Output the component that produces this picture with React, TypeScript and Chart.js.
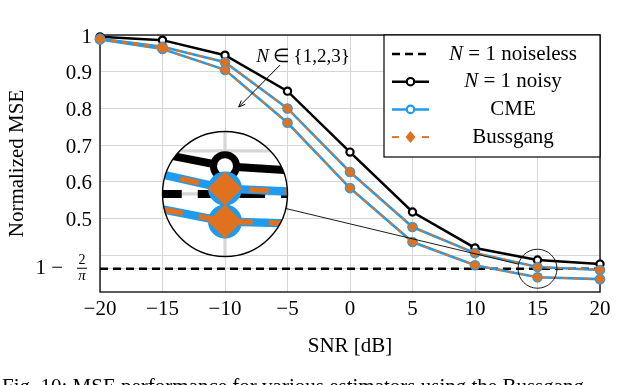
import React, { useEffect, useRef } from 'react';
import { Chart, registerables } from 'chart.js';

Chart.register(...registerables);

const SERIF = '"Liberation Serif", "Times New Roman", Times, serif';
const BLUE = '#1C9BEF';
const ORANGE = '#E0721F';
const GRID = '#d6d6d6';

// ---- data ----
const snrDb = [-20, -15, -10, -5, 0, 5, 10, 15, 20];
const mseNoiselessN1 = [0.3634, 0.3634, 0.3634, 0.3634, 0.3634, 0.3634, 0.3634, 0.3634, 0.3634];
const mseNoisyN1 = [0.995, 0.986, 0.945, 0.847, 0.681, 0.518, 0.42, 0.387, 0.376];
const mseCmeN2 = [0.99, 0.968, 0.926, 0.8, 0.627, 0.477, 0.406, 0.368, 0.36];
const mseCmeN3 = [0.988, 0.962, 0.905, 0.761, 0.583, 0.436, 0.373, 0.34, 0.335];
const mseBussgangN2 = [0.99, 0.968, 0.926, 0.8, 0.627, 0.477, 0.406, 0.368, 0.36];
const mseBussgangN3 = [0.988, 0.962, 0.905, 0.761, 0.583, 0.436, 0.373, 0.34, 0.335];

const xTicks = [-20, -15, -10, -5, 0, 5, 10, 15, 20];
const xTickLabels = ['\u221220', '\u221215', '\u221210', '\u22125', '0', '5', '10', '15', '20'];
const yTicks = [0.3634, 0.4, 0.5, 0.6, 0.7, 0.8, 0.9, 1];
const yTickLabels = ['', '', '0.5', '0.6', '0.7', '0.8', '0.9', '1'];

const xTitle = 'SNR [dB]';
const yTitle = 'Normalized MSE';
const legendEntries = [
  { italic: 'N', rest: ' = 1 noiseless', kind: 'noiseless' },
  { italic: 'N', rest: ' = 1 noisy', kind: 'noisy' },
  { italic: '', rest: 'CME', kind: 'cme' },
  { italic: '', rest: 'Bussgang', kind: 'bussgang' },
];
const annotationItalic = 'N';
const annotationRest = '\u2009\u2208\u2009{1,2,3}';
const captionText = 'Fig. 10: MSE performance for various estimators using the Bussgang';

// annotation anchors in data coordinates
const annotationTextAt = { snr: -7.5, mse: 0.94 };
const arrowFrom = { snr: -5.6, mse: 0.918 };
const arrowTo = { snr: -8.9, mse: 0.804 };
const spyAt = { snr: 15, mse: 0.3634 };
const insetAt = { snr: -10, mse: 0.567 };

const toXY = (arr: number[]) => snrDb.map((x, i) => ({ x, y: arr[i] }));

function drawRuns(ctx: CanvasRenderingContext2D, runs: { t: string; italic?: boolean }[], x: number, y: number, size: number, align: 'center' | 'left') {
  const widths = runs.map((r) => {
    ctx.font = `${r.italic ? 'italic ' : ''}${size}px ${SERIF}`;
    return ctx.measureText(r.t).width;
  });
  const total = widths.reduce((a, b) => a + b, 0);
  let cx = align === 'center' ? x - total / 2 : x;
  ctx.textAlign = 'left';
  runs.forEach((r, i) => {
    ctx.font = `${r.italic ? 'italic ' : ''}${size}px ${SERIF}`;
    ctx.fillText(r.t, cx, y);
    cx += widths[i];
  });
}

function drawLegendSample(ctx: CanvasRenderingContext2D, kind: string, x0: number, x1: number, y: number) {
  const xm = (x0 + x1) / 2;
  ctx.save();
  if (kind === 'noiseless') {
    ctx.strokeStyle = '#000';
    ctx.lineWidth = 2.4;
    ctx.setLineDash([8, 5]);
    ctx.beginPath(); ctx.moveTo(x0, y); ctx.lineTo(x1, y); ctx.stroke();
  } else if (kind === 'noisy' || kind === 'cme') {
    const c = kind === 'noisy' ? '#000' : BLUE;
    ctx.strokeStyle = c;
    ctx.lineWidth = 2.5;
    ctx.beginPath(); ctx.moveTo(x0, y); ctx.lineTo(x1, y); ctx.stroke();
    ctx.beginPath(); ctx.arc(xm, y, 3.7, 0, Math.PI * 2);
    ctx.fillStyle = '#fff'; ctx.fill();
    ctx.lineWidth = 2.2; ctx.stroke();
  } else {
    ctx.strokeStyle = ORANGE;
    ctx.lineWidth = 2;
    ctx.beginPath(); ctx.moveTo(x0, y); ctx.lineTo(x0 + 7, y); ctx.stroke();
    ctx.beginPath(); ctx.moveTo(x1 - 7, y); ctx.lineTo(x1, y); ctx.stroke();
    ctx.fillStyle = ORANGE;
    ctx.beginPath();
    ctx.moveTo(xm, y - 6); ctx.lineTo(xm + 5, y); ctx.lineTo(xm, y + 6); ctx.lineTo(xm - 5, y);
    ctx.closePath(); ctx.fill();
  }
  ctx.restore();
}

const decorPlugin = {
  id: 'decor',
  beforeDatasetsDraw(chart: any) {
    const { ctx, chartArea: a } = chart;
    ctx.save();
    ctx.strokeStyle = '#000';
    ctx.lineWidth = 1.3;
    ctx.strokeRect(a.left, a.top, a.right - a.left, a.bottom - a.top);
    ctx.restore();
  },
  afterDraw(chart: any) {
    const { ctx, chartArea: a } = chart;
    const xs = chart.scales.x;
    const ys = chart.scales.y;
    const px = (v: number) => xs.getPixelForValue(v);
    const py = (v: number) => ys.getPixelForValue(v);

    ctx.save();
    ctx.fillStyle = '#000';
    ctx.textBaseline = 'middle';

    // y label 1 - 2/pi
    const yf = py(yTicks[0]);
    ctx.font = `21px ${SERIF}`;
    ctx.textAlign = 'right';
    ctx.fillText('1 \u2212', 63, yf);
    ctx.textAlign = 'center';
    ctx.font = `14px ${SERIF}`;
    ctx.fillText('2', 82, yf - 8);
    ctx.font = `italic 15px ${SERIF}`;
    ctx.fillText('\u03C0', 82, yf + 7);
    ctx.fillRect(77, yf - 1, 10, 1);

    // annotation
    drawRuns(ctx, [{ t: annotationItalic, italic: true }, { t: annotationRest }], px(annotationTextAt.snr), py(annotationTextAt.mse), 19, 'left');
    const ax0 = px(arrowFrom.snr), ay0 = py(arrowFrom.mse), ax1 = px(arrowTo.snr), ay1 = py(arrowTo.mse);
    ctx.strokeStyle = '#000';
    ctx.lineWidth = 1;
    ctx.beginPath(); ctx.moveTo(ax0, ay0); ctx.lineTo(ax1, ay1); ctx.stroke();
    const ang = Math.atan2(ay1 - ay0, ax1 - ax0);
    ctx.beginPath();
    ctx.moveTo(ax1 - 7 * Math.cos(ang - 0.4), ay1 - 7 * Math.sin(ang - 0.4));
    ctx.lineTo(ax1, ay1);
    ctx.lineTo(ax1 - 7 * Math.cos(ang + 0.4), ay1 - 7 * Math.sin(ang + 0.4));
    ctx.stroke();

    // spy / inset
    const sx = px(spyAt.snr), sy = py(spyAt.mse);
    const cx = px(insetAt.snr), cy = py(insetAt.mse);
    const r = 19.5, R = 62.5, m = R / r;
    const dx = sx - cx, dy = sy - cy, d = Math.hypot(dx, dy);
    ctx.lineWidth = 0.9;
    ctx.beginPath();
    ctx.moveTo(cx + (dx / d) * R, cy + (dy / d) * R);
    ctx.lineTo(sx - (dx / d) * r, sy - (dy / d) * r);
    ctx.stroke();
    ctx.beginPath(); ctx.arc(sx, sy, r, 0, Math.PI * 2); ctx.stroke();

    ctx.save();
    ctx.beginPath(); ctx.arc(cx, cy, R, 0, Math.PI * 2); ctx.clip();
    ctx.fillStyle = '#fff';
    ctx.fillRect(cx - R, cy - R, 2 * R, 2 * R);
    ctx.translate(cx, cy); ctx.scale(m, m); ctx.translate(-sx, -sy);
    ctx.strokeStyle = GRID; ctx.lineWidth = 1;
    xTicks.forEach((v) => { ctx.beginPath(); ctx.moveTo(px(v), a.top); ctx.lineTo(px(v), a.bottom); ctx.stroke(); });
    yTicks.forEach((v) => { ctx.beginPath(); ctx.moveTo(a.left, py(v)); ctx.lineTo(a.right, py(v)); ctx.stroke(); });
    const metas = chart.getSortedVisibleDatasetMetas();
    for (let i = metas.length - 1; i >= 0; i--) metas[i].controller.draw();
    ctx.restore();
    ctx.strokeStyle = '#000';
    ctx.lineWidth = 1.4;
    ctx.beginPath(); ctx.arc(cx, cy, R, 0, Math.PI * 2); ctx.stroke();

    // legend
    const lw = 216, lh = 122;
    const lx = a.right - lw, ly = a.top;
    ctx.fillStyle = '#fff';
    ctx.fillRect(lx, ly, lw, lh);
    ctx.strokeStyle = '#000';
    ctx.lineWidth = 1.2;
    ctx.strokeRect(lx, ly, lw, lh);
    ctx.fillStyle = '#000';
    legendEntries.forEach((e, i) => {
      const yy = ly + 19 + i * 27.7;
      drawLegendSample(ctx, e.kind, lx + 8, lx + 45, yy);
      ctx.fillStyle = '#000';
      ctx.textBaseline = 'middle';
      const runs = e.italic ? [{ t: e.italic, italic: true }, { t: e.rest }] : [{ t: e.rest }];
      drawRuns(ctx, runs, lx + 129, yy, 21, 'center');
    });

    // caption (cropped at the bottom of the picture)
    ctx.textBaseline = 'alphabetic';
    ctx.textAlign = 'left';
    ctx.font = `21px ${SERIF}`;
    ctx.fillText(captionText, 2, 393);
    ctx.restore();
  },
};

export default function App() {
  const ref = useRef<HTMLCanvasElement | null>(null);
  useEffect(() => {
    document.body.style.margin = '0';
    const canvas = ref.current;
    if (!canvas) return;
    const font = { family: SERIF, size: 21 };
    const chart = new Chart(canvas, {
      type: 'line',
      data: {
        datasets: [
          {
            label: 'N = 1 noiseless', data: toXY(mseNoiselessN1), borderColor: '#000', borderWidth: 2.5,
            borderDash: [8, 5], pointRadius: 0, order: 5,
          },
          {
            label: 'N = 1 noisy', data: toXY(mseNoisyN1), borderColor: '#000', borderWidth: 2.5,
            pointStyle: 'circle', pointRadius: 3.6, pointBorderWidth: 2.2, pointBackgroundColor: '#fff',
            pointBorderColor: '#000', order: 4,
          },
          {
            label: 'CME N=2', data: toXY(mseCmeN2), borderColor: BLUE, borderWidth: 2.6,
            pointStyle: 'circle', pointRadius: 4.2, pointBorderWidth: 2.2, pointBackgroundColor: '#fff',
            pointBorderColor: BLUE, order: 3,
          },
          {
            label: 'CME N=3', data: toXY(mseCmeN3), borderColor: BLUE, borderWidth: 2.6,
            pointStyle: 'circle', pointRadius: 4.2, pointBorderWidth: 2.2, pointBackgroundColor: '#fff',
            pointBorderColor: BLUE, order: 3,
          },
          {
            label: 'Bussgang N=2', data: toXY(mseBussgangN2), borderColor: ORANGE, borderWidth: 1.7,
            borderDash: [6, 5], pointStyle: 'rectRot', pointRadius: 5, pointBorderWidth: 0.5,
            pointBackgroundColor: ORANGE, pointBorderColor: ORANGE, order: 1,
          },
          {
            label: 'Bussgang N=3', data: toXY(mseBussgangN3), borderColor: ORANGE, borderWidth: 1.7,
            borderDash: [6, 5], pointStyle: 'rectRot', pointRadius: 5, pointBorderWidth: 0.5,
            pointBackgroundColor: ORANGE, pointBorderColor: ORANGE, order: 1,
          },
        ],
      },
      options: {
        responsive: false,
        animation: false,
        devicePixelRatio: 1,
        layout: { padding: { left: 0, right: 40, top: 35, bottom: 0 } },
        plugins: { legend: { display: false }, tooltip: { enabled: false } },
        elements: { line: { tension: 0 } },
        datasets: { line: { clip: false } } as any,
        scales: {
          x: {
            type: 'linear', min: -20, max: 20,
            afterBuildTicks: (s: any) => { s.ticks = xTicks.map((v) => ({ value: v })); },
            afterFit: (s: any) => { s.height = 93; },
            ticks: {
              callback: (v: any) => xTickLabels[xTicks.indexOf(Number(v))] ?? '',
              font, color: '#000', padding: 4.5, maxRotation: 0, autoSkip: false,
            },
            grid: { color: GRID, lineWidth: 1, drawTicks: false },
            border: { display: false },
            title: { display: true, text: xTitle, font, color: '#000', padding: { top: 0, bottom: 26 } },
          },
          y: {
            type: 'linear', min: 0.3, max: 1,
            afterBuildTicks: (s: any) => { s.ticks = yTicks.map((v) => ({ value: v })); },
            afterFit: (s: any) => { s.width = 100; },
            ticks: {
              callback: (v: any) => yTickLabels[yTicks.indexOf(Number(v))] ?? '',
              font, color: '#000', padding: 8, autoSkip: false, labelOffset: 2,
            },
            grid: { color: GRID, lineWidth: 1, drawTicks: false },
            border: { display: false },
            title: { display: true, text: yTitle, font, color: '#000', padding: { top: 5, bottom: 0 } },
          },
        },
      } as any,
      plugins: [decorPlugin],
    });
    return () => chart.destroy();
  }, []);
  return (
    <div style={{ width: 640, height: 385, overflow: 'hidden', background: '#fff' }}>
      <canvas ref={ref} width={640} height={385} style={{ display: 'block' }} />
    </div>
  );
}
